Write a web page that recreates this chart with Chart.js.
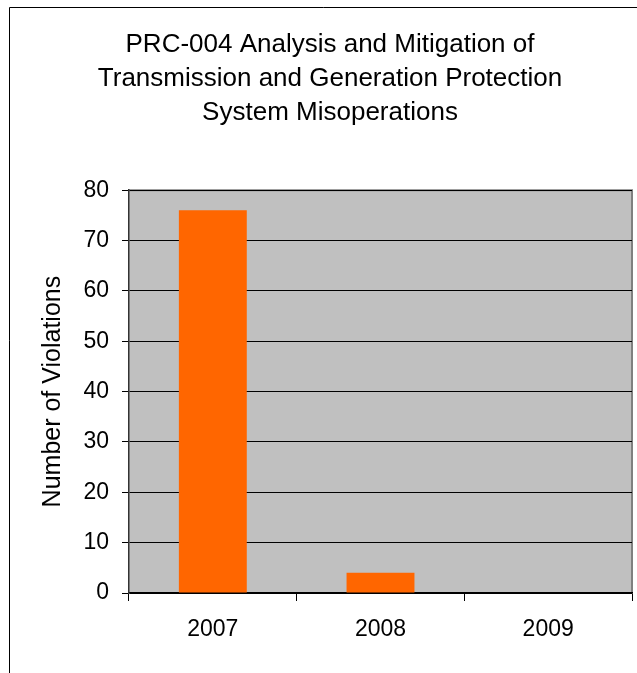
<!DOCTYPE html>
<html>
<head>
<meta charset="utf-8">
<script src="https://cdn.jsdelivr.net/npm/chart.js@4"></script>
<style>
  body { margin: 0; background: #fff; }
  #wrap { width: 637px; height: 673px; }
</style>
</head>
<body>
<div id="wrap"><canvas id="ChartViolations" width="637" height="673"></canvas></div>
<script>
var years = ['2007', '2008', '2009'];
var violations = [76, 4, 0];
var titleLines = ['PRC-004 Analysis and Mitigation of', 'Transmission and Generation Protection', 'System Misoperations'];
var yLabel = 'Number of Violations';

var fontFamily = "'Liberation Sans', Arial, sans-serif";

// grey plot area and the outer frame, as the spreadsheet draws them
var frame = {
    id: 'frame',
    beforeDraw: function (chart) {
        var ctx = chart.ctx, a = chart.chartArea;
        ctx.save();
        ctx.fillStyle = '#fff';
        ctx.fillRect(0, 0, chart.width, chart.height);
        ctx.strokeStyle = '#000';
        ctx.lineWidth = 1;
        ctx.beginPath();
        ctx.moveTo(9.5, chart.height + 2);
        ctx.lineTo(9.5, 7.5);
        ctx.lineTo(chart.width + 2, 7.5);
        ctx.stroke();
        ctx.fillStyle = '#c0c0c0';
        ctx.fillRect(a.left, a.top, a.right - a.left, a.bottom - a.top);
        ctx.strokeStyle = '#808080';
        ctx.lineWidth = 2;
        ctx.beginPath();
        ctx.moveTo(a.left, a.top);
        ctx.lineTo(a.right, a.top);
        ctx.lineTo(a.right, a.bottom);
        ctx.stroke();
        ctx.restore();
    }
};

new Chart(document.getElementById('ChartViolations'), {
    type: 'bar',
    data: {
        labels: years,
        datasets: [{
            label: 'Violations',
            data: violations,
            backgroundColor: '#ff6600',
            borderWidth: 0,
            barPercentage: 0.405,
            categoryPercentage: 1
        }]
    },
    options: {
        responsive: false,
        animation: false,
        layout: { padding: { left: 28, right: 5, top: 10, bottom: 0 } },
        plugins: {
            legend: { display: false },
            tooltip: { enabled: false },
            title: {
                display: true,
                text: titleLines,
                color: '#000',
                font: { family: fontFamily, size: 26, weight: 'normal', lineHeight: 1.31 },
                padding: { top: 18, bottom: 60 }
            }
        },
        scales: {
            x: {
                afterFit: function (scale) { scale.height = 80; },
                grid: { display: true, drawOnChartArea: false, offset: true, color: '#000', tickLength: 8 },
                border: { color: '#000', width: 1.5 },
                ticks: { color: '#000', padding: 15, font: { family: fontFamily, size: 23 } }
            },
            y: {
                min: 0,
                max: 80,
                afterFit: function (scale) { scale.width = 101; },
                grid: { color: '#000', tickLength: 7 },
                border: { color: '#333', width: 1.5 },
                ticks: { stepSize: 10, color: '#000', padding: 13, font: { family: fontFamily, size: 23 } },
                title: { display: true, text: yLabel, color: '#000', font: { family: fontFamily, size: 25 }, padding: { top: 10, bottom: 0 } }
            }
        }
    },
    plugins: [frame]
});
</script>
</body>
</html>
